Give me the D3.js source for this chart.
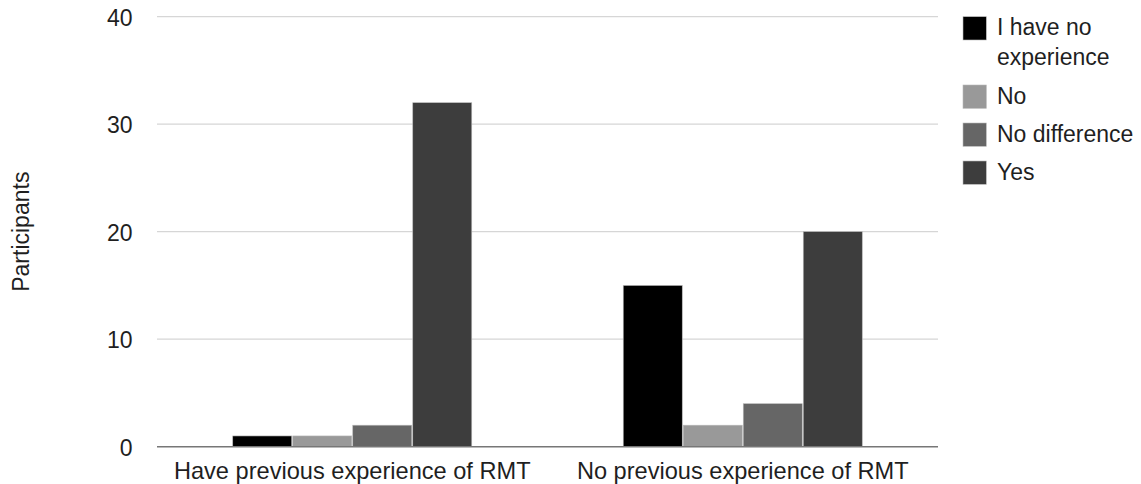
<!DOCTYPE html>
<html>
<head>
<meta charset="utf-8">
<script src="https://cdn.jsdelivr.net/npm/d3@7"></script>
<style>
  html, body { margin: 0; padding: 0; background: #fff; }
  svg { display: block; font-family: "Liberation Sans", Arial, sans-serif; }
</style>
</head>
<body>
<svg id="chart" width="1141" height="484"></svg>
<script>
// Participant counts per group, one array per answer
const groups = ["Have previous experience of RMT", "No previous experience of RMT"];
const seriesNames = ["I have no experience", "No", "No difference", "Yes"];
const seriesColors = ["#000000", "#999999", "#666666", "#3d3d3d"];
const noExperience = [1, 15];
const no = [1, 2];
const noDifference = [2, 4];
const yes = [32, 20];
const yTicks = [0, 10, 20, 30, 40];
const yTitle = "Participants";

const seriesValues = [noExperience, no, noDifference, yes];
const rows = groups.map((g, gi) => ({
  group: g,
  values: seriesNames.map((s, si) => ({ series: s, si, value: seriesValues[si][gi] }))
}));

const svg = d3.select("#chart");
const plot = { left: 157, right: 938, top: 16.7, bottom: 446.7 };
const textColor = "#1f1f1f";
const fontSize = 23;

const x0 = d3.scaleBand().domain(groups).range([plot.left, plot.right]).padding(0);
const x1 = d3.scaleBand().domain(seriesNames).range([0, x0.bandwidth()]).paddingInner(0).paddingOuter(1.254);
const y = d3.scaleLinear().domain([0, 40]).range([plot.bottom, plot.top]);

// Horizontal gridlines
svg.append("g")
  .selectAll("line")
  .data(yTicks.filter(t => t !== 0))
  .join("line")
  .attr("x1", plot.left).attr("x2", plot.right)
  .attr("y1", d => y(d)).attr("y2", d => y(d))
  .attr("stroke", "#d6d6d6").attr("stroke-width", 1.2);

// Y axis labels
const yAxis = d3.axisLeft(y).tickValues(yTicks).tickSize(0).tickPadding(0).tickFormat(d3.format("d"));
const yg = svg.append("g").attr("transform", `translate(${132.5},0)`).call(yAxis);
yg.select(".domain").remove();
yg.selectAll("text")
  .attr("fill", textColor)
  .attr("font-size", fontSize)
  .attr("font-family", "Liberation Sans, Arial, sans-serif")
  .attr("dy", "0.37em");

// Y axis title
svg.append("text")
  .attr("transform", `translate(29,${(plot.top + plot.bottom) / 2}) rotate(-90)`)
  .attr("text-anchor", "middle")
  .attr("fill", textColor)
  .attr("font-size", fontSize)
  .text(yTitle);

// Bars
svg.append("g")
  .selectAll("g")
  .data(rows)
  .join("g")
  .attr("transform", d => `translate(${x0(d.group)},0)`)
  .selectAll("rect")
  .data(d => d.values)
  .join("rect")
  .attr("x", d => x1(d.series) + 0.5)
  .attr("width", x1.bandwidth() - 1)
  .attr("y", d => y(d.value))
  .attr("height", d => y(0) - y(d.value))
  .attr("fill", d => seriesColors[d.si])
  .attr("stroke", "#b8b8b8")
  .attr("stroke-width", 0.6);

// Baseline
svg.append("line")
  .attr("x1", plot.left).attr("x2", plot.right)
  .attr("y1", y(0)).attr("y2", y(0))
  .attr("stroke", "#777").attr("stroke-width", 1.6);

// X axis labels
const xAxis = d3.axisBottom(x0).tickSize(0).tickPadding(0);
const xg = svg.append("g").attr("transform", "translate(0,478.5)").call(xAxis);
xg.select(".domain").remove();
xg.selectAll("text")
  .attr("fill", textColor)
  .attr("font-size", 23.6)
  .attr("font-family", "Liberation Sans, Arial, sans-serif")
  .attr("dy", 0)
  .attr("y", 0);

// Legend
const legendLines = [["I have no", "experience"], ["No"], ["No difference"], ["Yes"]];
const legend = svg.append("g").attr("transform", "translate(963,16.7)");
let offset = 0;
legendLines.forEach((lines, i) => {
  const item = legend.append("g").attr("transform", `translate(0,${offset})`);
  item.append("rect")
    .attr("width", 23.3).attr("height", 23.3)
    .attr("fill", seriesColors[i])
    .attr("stroke", "#b8b8b8").attr("stroke-width", 0.6);
  const t = item.append("text")
    .attr("x", 34)
    .attr("y", 18.5)
    .attr("fill", textColor)
    .attr("font-size", fontSize);
  lines.forEach((ln, li) => {
    t.append("tspan").attr("x", 34).attr("dy", li === 0 ? 0 : 30).text(ln);
  });
  offset += 38 + (lines.length - 1) * 30.3;
});
</script>
</body>
</html>
